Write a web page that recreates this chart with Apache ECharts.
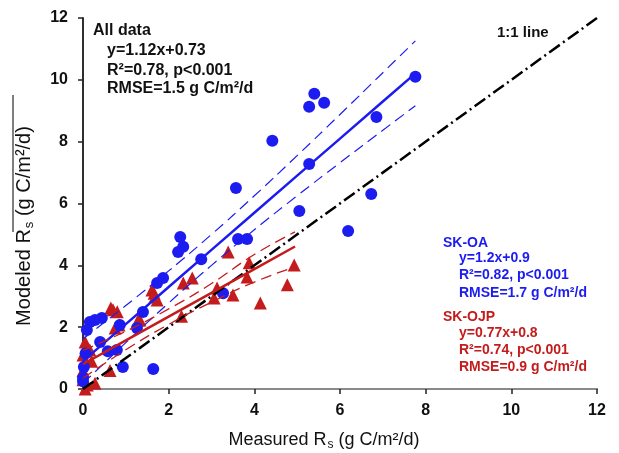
<html>
<head>
<meta charset="utf-8">
<script src="https://cdn.jsdelivr.net/npm/echarts@6/dist/echarts.min.js"></script>
<style>
  body { margin: 0; background: #fff; }
  #chart { width: 619px; height: 453px; }
</style>
</head>
<body>
<div id="chart"></div>
<script>
// SK-OA (blue circles): measured vs modeled Rs
var oaX = [7.76, 5.40, 5.28, 5.63, 4.42, 6.85, 5.28, 3.57, 5.05, 6.73, 6.19,
           2.27, 2.34, 2.22, 3.62, 3.83, 2.76, 1.73, 1.87, 3.27,
           1.40, 1.26, 0.86, 0.44, 0.28, 0.16, 0.09, 0.40, 0.79, 0.58,
           0.02, 0.93, 1.64, 0.00, 0.06, 0.00];
var oaY = [10.1, 9.55, 9.13, 9.26, 8.03, 8.80, 7.28, 6.50, 5.76, 6.31, 5.11,
           4.92, 4.60, 4.43, 4.85, 4.85, 4.20, 3.43, 3.59, 3.10,
           2.49, 1.97, 2.07, 2.30, 2.23, 2.17, 1.91, 1.52, 1.26, 1.22,
           0.71, 0.71, 0.65, 0.36, 1.15, 0.25];
// SK-OJP (red triangles)
var ojpX = [4.93, 4.77, 3.39, 3.88, 3.83, 4.14, 2.55, 2.34, 3.13, 3.50, 3.06,
            1.73, 1.61, 1.66, 2.30, 1.68, 1.33, 0.70, 0.80, 0.65, 0.75, 0.84,
            0.05, 0.16, 0.00, 0.00, 0.63, 0.10, 0.28, 0.05, 0.20, 0.00, 1.29];
var ojpY = [4.01, 3.37, 4.43, 4.08, 3.62, 2.78, 3.59, 3.43, 3.27, 3.04, 2.94,
            2.88, 3.20, 3.10, 2.35, 2.98, 2.23, 2.56, 2.50, 2.62, 1.97, 2.07,
            1.52, 1.26, 1.10, 0.60, 0.60, 0.13, 0.19, 0.00, 0.90, 0.30, 2.23];

// fitted lines and their dashed bands
var oaFitX   = [0, 1, 2, 3, 4, 5, 6, 7, 7.76];
var oaFit    = [0.9, 2.1, 3.3, 4.5, 5.7, 6.9, 8.1, 9.3, 10.21];
var oaUpper  = [1.62, 2.70, 3.82, 5.00, 6.25, 7.55, 8.88, 10.23, 11.26];
var oaLower  = [0.18, 1.50, 2.78, 4.00, 5.15, 6.25, 7.32, 8.37, 9.16];
var ojpFitX  = [0, 1, 2, 3, 4, 4.95];
var ojpFit   = [0.80, 1.57, 2.34, 3.11, 3.88, 4.61];
var ojpUpper = [1.25, 1.87, 2.59, 3.41, 4.35, 5.08];
var ojpLower = [0.35, 1.27, 2.09, 2.81, 3.46, 3.95];
var oneToOne = [0, 12];

var BLUE = '#1c1cf0';
var RED = '#c41c1c';
var FONT = '"Liberation Sans", Arial, sans-serif';

function pairs(xs, ys) {
    return xs.map(function (x, i) { return [x, ys[i]]; });
}

function textEl(x, y, text, size, color, bold) {
    var f = (bold ? 'bold ' : '') + size + 'px ' + FONT;
    return {
        type: 'text', x: x, y: y, silent: true,
        style: {
            text: text, font: f, fill: color,
            align: 'left', verticalAlign: 'middle',
            textAlign: 'left', textVerticalAlign: 'middle'
        }
    };
}

var chart = echarts.init(document.getElementById('chart'));

var option = {
    animation: false,
    backgroundColor: '#fff',
    grid: { left: 83, right: 22, top: 18, bottom: 64 },
    xAxis: [
        {
            type: 'value', min: 0, max: 12, interval: 2,
            axisLine: { lineStyle: { color: '#222', width: 1.5 } },
            axisTick: { length: 5, lineStyle: { color: '#222', width: 1.5 } },
            axisLabel: { margin: 14, color: '#111', fontSize: 16, fontWeight: 'bold', fontFamily: FONT },
            splitLine: { show: false }
        },
        {
            type: 'value', min: 0, max: 12, position: 'top',
            axisLine: { show: true, lineStyle: { color: '#8a8a8a', width: 2 } },
            axisTick: { show: false }, axisLabel: { show: false }, splitLine: { show: false }
        }
    ],
    yAxis: [
        {
            type: 'value', min: 0, max: 12, interval: 2,
            axisLine: { show: true, lineStyle: { color: '#222', width: 1.5 } },
            axisTick: { show: true, length: 5, lineStyle: { color: '#222', width: 1.5 } },
            axisLabel: { margin: 15, color: '#111', fontSize: 16, fontWeight: 'bold', fontFamily: FONT },
            splitLine: { show: false }
        },
        {
            type: 'value', min: 0, max: 12, position: 'right',
            axisLine: { show: true, lineStyle: { color: '#222', width: 1.5 } },
            axisTick: { show: false }, axisLabel: { show: false }, splitLine: { show: false }
        }
    ],
    series: [
        {
            name: '1:1', type: 'line', symbol: 'none', z: 4,
            data: pairs(oneToOne, oneToOne),
            lineStyle: { color: '#000', width: 2.5, type: [13, 4, 2, 4] }
        },
        {
            name: 'SK-OJP', type: 'scatter', symbol: 'triangle', symbolSize: 13, z: 2,
            data: pairs(ojpX, ojpY),
            itemStyle: { color: RED, opacity: 1 }
        },
        {
            name: 'SK-OA', type: 'scatter', symbol: 'circle', symbolSize: 12, z: 3,
            data: pairs(oaX, oaY),
            itemStyle: { color: BLUE, opacity: 1 }
        },
        {
            type: 'line', symbol: 'none', z: 5, data: pairs(oaFitX, oaFit),
            lineStyle: { color: BLUE, width: 2.5 }
        },
        {
            type: 'line', symbol: 'none', z: 5, smooth: true, data: pairs(oaFitX, oaUpper),
            lineStyle: { color: BLUE, width: 1.2, type: [11, 6] }
        },
        {
            type: 'line', symbol: 'none', z: 5, smooth: true, data: pairs(oaFitX, oaLower),
            lineStyle: { color: BLUE, width: 1.2, type: [11, 6] }
        },
        {
            type: 'line', symbol: 'none', z: 5, data: pairs(ojpFitX, ojpFit),
            lineStyle: { color: RED, width: 2.5 }
        },
        {
            type: 'line', symbol: 'none', z: 5, smooth: true, data: pairs(ojpFitX, ojpUpper),
            lineStyle: { color: RED, width: 1.3, type: [11, 6] }
        },
        {
            type: 'line', symbol: 'none', z: 5, smooth: true, data: pairs(ojpFitX, ojpLower),
            lineStyle: { color: RED, width: 1.3, type: [11, 6] }
        }
    ],
    graphic: [
        textEl(93, 31, 'All data', 16, '#111', true),
        textEl(107, 51, 'y=1.12x+0.73', 16, '#111', true),
        textEl(107, 71, 'R\u00b2=0.78, p<0.001', 16, '#111', true),
        textEl(107, 89, 'RMSE=1.5 g C/m\u00b2/d', 16, '#111', true),
        textEl(497, 33, '1:1 line', 15, '#111', true),
        textEl(443, 243, 'SK-OA', 14, BLUE, true),
        textEl(459, 258, 'y=1.2x+0.9', 14, BLUE, true),
        textEl(459, 275, 'R\u00b2=0.82, p<0.001', 14, BLUE, true),
        textEl(459, 293, 'RMSE=1.7 g C/m\u00b2/d', 14, BLUE, true),
        textEl(443, 317, 'SK-OJP', 14, RED, true),
        textEl(459, 333, 'y=0.77x+0.8', 14, RED, true),
        textEl(459, 350, 'R\u00b2=0.74, p<0.001', 14, RED, true),
        textEl(459, 367, 'RMSE=0.9 g C/m\u00b2/d', 14, RED, true),
        {
            // x axis title
            type: 'text', x: 324, y: 440, silent: true,
            style: {
                text: '{a|Measured R}{s|s}{a| (g C/m\u00b2/d)}',
                align: 'center', verticalAlign: 'middle',
                textAlign: 'center', textVerticalAlign: 'middle',
                fill: '#111',
                rich: {
                    a: { font: '18px ' + FONT, fill: '#111' },
                    s: { font: '12px ' + FONT, fill: '#111', padding: [9, 0, 0, 1] }
                }
            }
        },
        {
            // y axis title, rotated
            type: 'text', x: 24, y: 226, rotation: Math.PI / 2, silent: true,
            style: {
                text: '{a|Modeled R}{s|s}{a| (g C/m\u00b2/d)}',
                align: 'center', verticalAlign: 'middle',
                textAlign: 'center', textVerticalAlign: 'middle',
                fill: '#111',
                rich: {
                    a: { font: '20px ' + FONT, fill: '#111' },
                    s: { font: '13px ' + FONT, fill: '#111', padding: [10, 0, 0, 1] }
                }
            }
        },
        {
            type: 'line', silent: true,
            shape: { x1: 13, y1: 95, x2: 13, y2: 232 },
            style: { stroke: '#555', lineWidth: 1.5 }
        }
    ]
};

chart.setOption(option);
</script>
</body>
</html>
